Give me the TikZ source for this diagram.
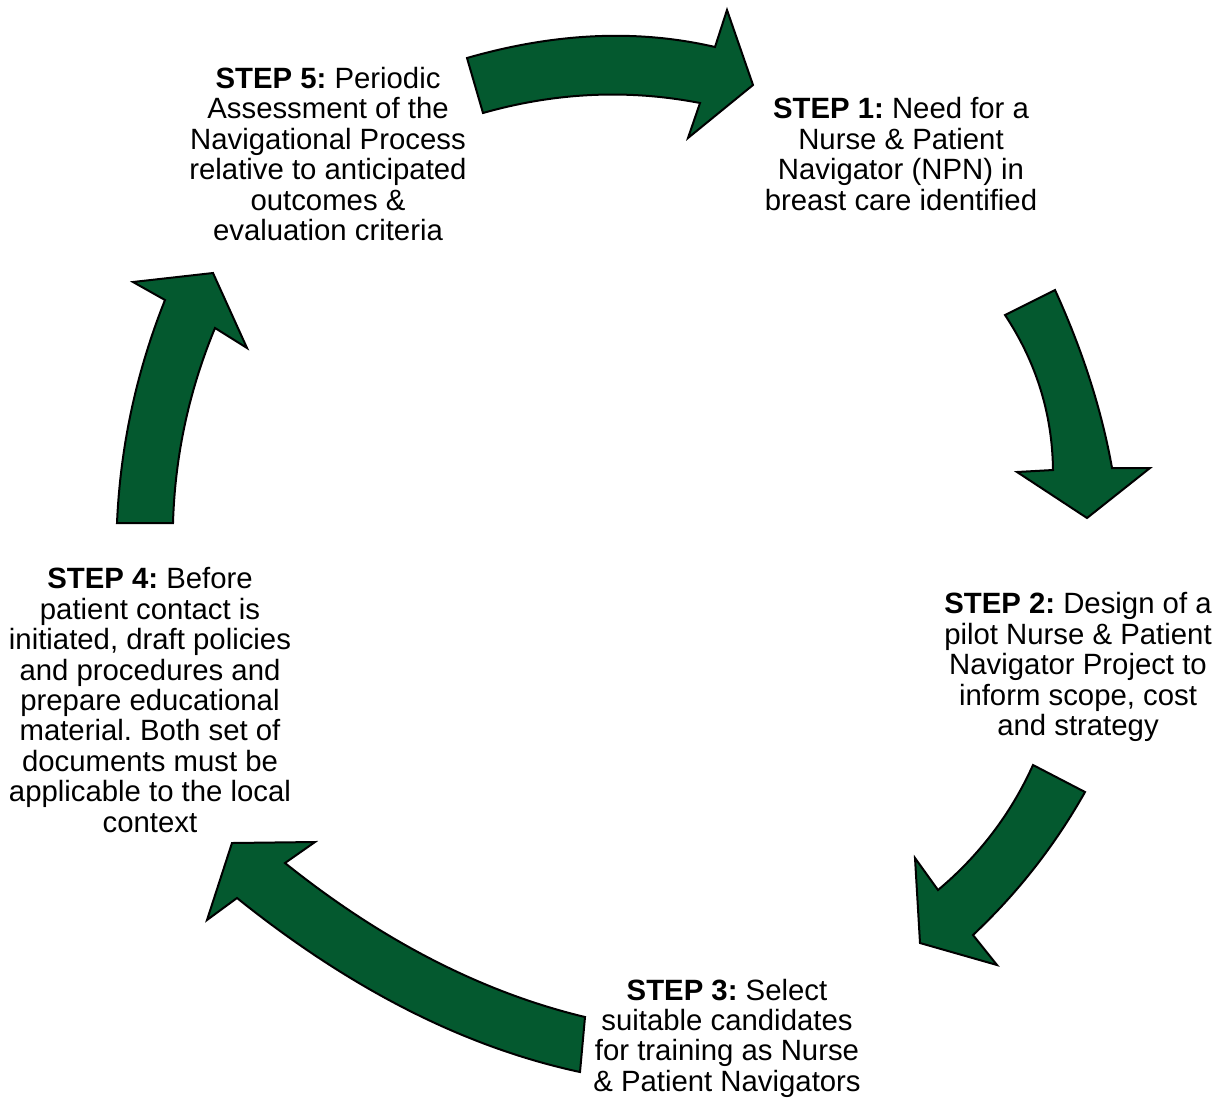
\documentclass[tikz,border=0pt]{standalone}
\usepackage{fontspec}
\setmainfont{Liberation Sans}
\usetikzlibrary{calc}
\definecolor{arrowgreen}{RGB}{4,89,47}
\frenchspacing
\begin{document}
\begin{tikzpicture}[x=0.75pt,y=-0.75pt,
  cyclearrow/.style={fill=arrowgreen,draw=black,line width=1.5pt,line join=miter},
  steptext/.style={align=center,font=\fontsize{22}{22.8}\selectfont\frenchspacing,inner sep=0pt}]
\useasboundingbox (0,0) rectangle (1220,1097);

% Arrow 1 (top, pointing right)
\draw[cyclearrow] (467,58)
  .. controls ($(467,58)!2/3!(599,20)$) and ($(715,47)!2/3!(599,20)$) .. (715,47)
  -- (727,10) -- (753,85) -- (688,138) -- (700,103)
  .. controls ($(700,103)!2/3!(592,82)$) and ($(483,113)!2/3!(592,82)$) .. (483,113)
  -- cycle;

% Arrow 2 (right, pointing down)
\draw[cyclearrow] (1005,315) -- (1055,290)
  .. controls ($(1055,290)!2/3!(1096.5,381)$) and ($(1112,468)!2/3!(1096.5,381)$) .. (1112,468)
  -- (1150,468) -- (1087,518) -- (1017,472) -- (1053,470)
  .. controls ($(1053,470)!2/3!(1052,386)$) and ($(1005,315)!2/3!(1052,386)$) .. (1005,315)
  -- cycle;

% Arrow 3 (lower right, pointing down-left)
\draw[cyclearrow] (1033,765) -- (1085,792)
  .. controls ($(1085,792)!2/3!(1040,872)$) and ($(973,935)!2/3!(1040,872)$) .. (973,935)
  -- (997,965) -- (920,943) -- (915,858) -- (938,890)
  .. controls ($(938,890)!2/3!(1000,838)$) and ($(1033,765)!2/3!(1000,838)$) .. (1033,765)
  -- cycle;

% Arrow 4 (bottom, pointing up-left)
\draw[cyclearrow] (585,1017) -- (580,1072)
  .. controls ($(580,1072)!2/3!(407.5,1035)$) and ($(237,898)!2/3!(407.5,1035)$) .. (237,898)
  -- (207,920) -- (232,843) -- (315,842) -- (285,863)
  .. controls ($(285,863)!2/3!(431,980)$) and ($(585,1017)!2/3!(431,980)$) .. (585,1017)
  -- cycle;

% Arrow 5 (left, pointing up)
\draw[cyclearrow] (117,523) -- (173,523)
  .. controls ($(173,523)!2/3!(176,422)$) and ($(215,328)!2/3!(176,422)$) .. (215,328)
  -- (247,348) -- (213,273) -- (133,282) -- (165,300)
  .. controls ($(165,300)!2/3!(122,408)$) and ($(117,523)!2/3!(122,408)$) .. (117,523)
  -- cycle;

\node[steptext] (s5) at (328,154) {\textbf{STEP 5:} Periodic\\Assessment of the\\Navigational Process\\relative to anticipated\\outcomes \&\\evaluation criteria};
\node[steptext] (s1) at (901,154) {\textbf{STEP 1:} Need for a\\Nurse \& Patient\\Navigator (NPN) in\\breast care identified};
\node[steptext] (s2) at (1078,667) {\textbf{STEP 2:} Design of a\\pilot Nurse \& Patient\\Navigator Project to\\inform scope, cost\\and strategy};
\node[steptext] (s3) at (727,1038) {\textbf{STEP 3:} Select\\suitable candidates\\for training as Nurse\\\& Patient Navigators};
\node[steptext] (s4) at (150,700) {\textbf{STEP 4:} Before\\patient contact is\\initiated, draft policies\\and procedures and\\prepare educational\\material. Both set of\\documents must be\\applicable to the local\\context};
\end{tikzpicture}
\end{document}
